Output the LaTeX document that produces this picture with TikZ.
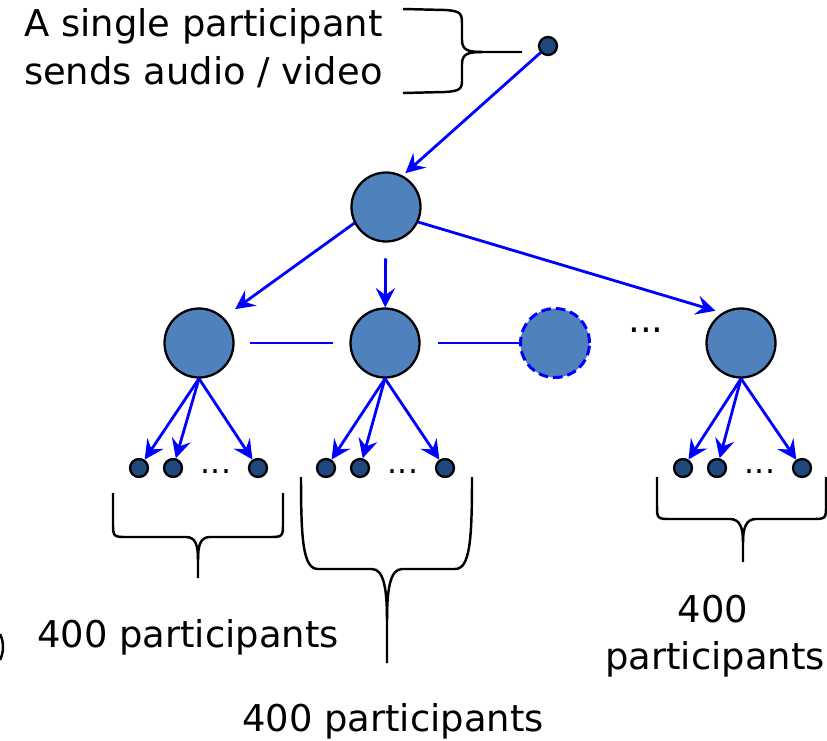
\documentclass[tikz,border=0pt]{standalone}
\usepackage{fontspec}
\setmainfont{DejaVu Sans}
\usetikzlibrary{arrows.meta}
\definecolor{hubfill}{RGB}{79,129,189}
\definecolor{leaffill}{RGB}{31,73,125}

\begin{document}
\begin{tikzpicture}[x=0.02cm,y=-0.02cm,
	hub/.style={circle,draw=black,line width=1.3pt,fill=hubfill,minimum size=1.38cm,inner sep=0pt},
	leaf/.style={circle,draw=black,line width=1.3pt,fill=leaffill,minimum size=0.36cm,inner sep=0pt},
	flow/.style={blue,line width=1.6pt,-{Stealth[length=11pt,width=11pt,inset=4pt]}},
	link/.style={blue,line width=1.6pt},
	curly/.style={black,line width=1.4pt},
	txt/.style={font=\fontsize{21}{24}\selectfont,inner sep=0pt},
	dotsmall/.style={font=\fontsize{18}{20}\selectfont,inner sep=0pt,anchor=base}]
	
	\useasboundingbox (0,0) rectangle (827,740);
	
	% Sender
	\node[leaf] (src) at (548,46) {};
	\node[txt,anchor=base east] (sendA) at (383,37) {A single participant};
	\node[txt,anchor=base east] (sendB) at (383,85) {sends audio / video};
	\draw[curly] (403,9) -- (445,10) .. controls (462,11) and (462,14) .. (462,26) -- (462,40)
		.. controls (462,50) and (468,52) .. (482,52) -- (522,52);
	\draw[curly] (403,93) -- (445,92) .. controls (462,91) and (462,88) .. (462,78) -- (462,64)
		.. controls (462,54) and (468,52) .. (482,52);
	
	% Root and relay nodes
	\node[hub] (root) at (386,207) {};
	\node[hub] (hubA) at (199,343) {};
	\node[hub] (hubB) at (385,343) {};
	\node[circle,fill=hubfill,draw=blue,line width=1.7pt,dash pattern=on 5.5pt off 2.8pt,
		minimum size=1.38cm,inner sep=0pt] (hubC) at (555,343) {};
	\node[txt,anchor=base] (more) at (646,332) {...};
	\node[hub] (hubD) at (741,343) {};
	
	% Links between relays
	\draw[link,shorten <=9pt,shorten >=9.5pt] (hubA) -- (hubB);
	\draw[link,shorten <=10pt] (hubB) -- (hubC);
	
	% Fan out from the root
	\draw[flow,shorten >=2pt] (src) -- (root.62);
	\draw[flow,shorten >=8pt] (root.207) -- (hubA.46);
	\draw[flow,shorten <=9pt] (root) -- (hubB);
	\draw[flow,shorten >=4pt] (root.-25) -- (hubD.122);
	
	% Participants below each relay
	\foreach \g/\lx in {A/139, B/326, D/683} {
		\node[leaf] (\g1) at (\lx,468) {};
		\node[leaf] (\g2) at (\lx+34,468) {};
		\node[leaf] (\g3) at (\lx+119,468) {};
		\node[dotsmall] at (\lx+77,473) {...};
		\foreach \i in {1,2,3}
			\draw[flow] (hub\g.south) -- (\g\i);
	}
	
	% Braces
	\draw[curly] (113,493) -- (113,522) .. controls (113,537) .. (128,537) -- (186,537)
		.. controls (196,537) and (198,546) .. (198,560) -- (198,578);
	\draw[curly] (283,493) -- (283,522) .. controls (283,537) .. (268,537) -- (210,537)
		.. controls (200,537) and (198,546) .. (198,560);
	\draw[curly] (301,477) .. controls (301,540) and (303,569) .. (318,569) -- (372,569)
		.. controls (384,569) and (387,590) .. (387,620) -- (387,663);
	\draw[curly] (472,477) .. controls (472,540) and (470,569) .. (455,569) -- (402,569)
		.. controls (390,569) and (387,590) .. (387,620);
	\draw[curly] (657,477) -- (657,505) .. controls (657,519) .. (672,519) -- (730,519)
		.. controls (740,519) and (743,528) .. (743,542) -- (743,562);
	\draw[curly] (826,477) -- (826,505) .. controls (826,519) .. (811,519) -- (756,519)
		.. controls (746,519) and (743,528) .. (743,542);
	\draw[curly] (0,634) .. controls (4,642) and (4,652) .. (0,660);
	
	% Group sizes
	\node[txt,anchor=base] (sizeA) at (188,647) {400 participants};
	\node[txt,anchor=base] (sizeB) at (393,731) {400 participants};
	\node[txt,anchor=base] (sizeD1) at (713,622) {400};
	\node[txt,anchor=base] (sizeD2) at (715,669) {participants};
	
\end{tikzpicture}
\end{document}
